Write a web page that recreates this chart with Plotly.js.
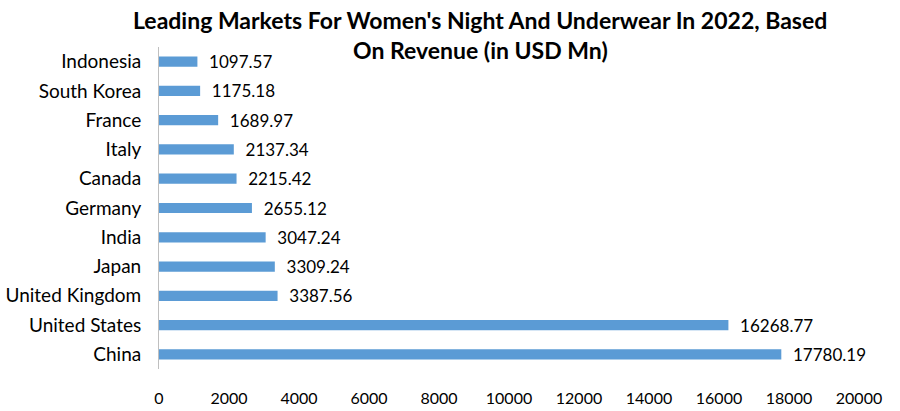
<!DOCTYPE html>
<html>
<head>
<meta charset="utf-8">
<script src="https://cdn.plot.ly/plotly-3.0.1.min.js"></script>
<style>html,body{margin:0;padding:0;background:#fff;}#chart{width:900px;height:411px;}</style>
</head>
<body>
<div id="chart"></div>
<script>
const countries = ["China","United States","United Kingdom","Japan","India","Germany","Canada","Italy","France","South Korea","Indonesia"];
const revenue = [17780.19,16268.77,3387.56,3309.24,3047.24,2655.12,2215.42,2137.34,1689.97,1175.18,1097.57];
const xTicks = [0,2000,4000,6000,8000,10000,12000,14000,16000,18000,20000];
const titleLines = ["Leading Markets For Women's Night And Underwear In 2022, Based", "On Revenue (in USD Mn)"];
const FONT = "Lato, 'Open Sans', sans-serif";

Plotly.newPlot("chart", [{
  type: "bar",
  orientation: "h",
  y: countries,
  x: revenue,
  marker: {color: "#5B9BD5"},
  texttemplate: "  %{x:.2f}",
  textposition: "outside",
  constraintext: "none",
  cliponaxis: false,
  textfont: {family: FONT, size: 17, color: "#000"},
  hoverinfo: "x+y"
}], {
  width: 900, height: 411,
  margin: {l: 159, r: 41, t: 47, b: 42},
  paper_bgcolor: "#fff", plot_bgcolor: "#fff",
  bargap: 0.65,
  showlegend: false,
  annotations: titleLines.map((t, i) => ({
    text: "<b>" + t + "</b>",
    xref: "paper", yref: "paper",
    x: 0.4586, y: i === 0 ? 1.0839 : 0.9907,
    xanchor: "center", yanchor: "middle",
    showarrow: false,
    font: {family: FONT, size: 23, color: "#000"}
  })),
  xaxis: {
    range: [0, 20000],
    automargin: false,
    tickvals: xTicks,
    ticktext: xTicks.map(String),
    showgrid: false, zeroline: false, showline: false,
    ticks: "outside", ticklen: 15, tickcolor: "rgba(0,0,0,0)",
    tickfont: {family: FONT, size: 16, color: "#000"}
  },
  yaxis: {
    automargin: false,
    showgrid: false, zeroline: false,
    showline: true, linecolor: "#bfbfbf", linewidth: 1,
    ticks: "outside", ticklen: 13, tickcolor: "rgba(0,0,0,0)",
    tickfont: {family: FONT, size: 19, color: "#000"}
  },
  font: {family: FONT}
}, {displayModeBar: false});
</script>
</body>
</html>
